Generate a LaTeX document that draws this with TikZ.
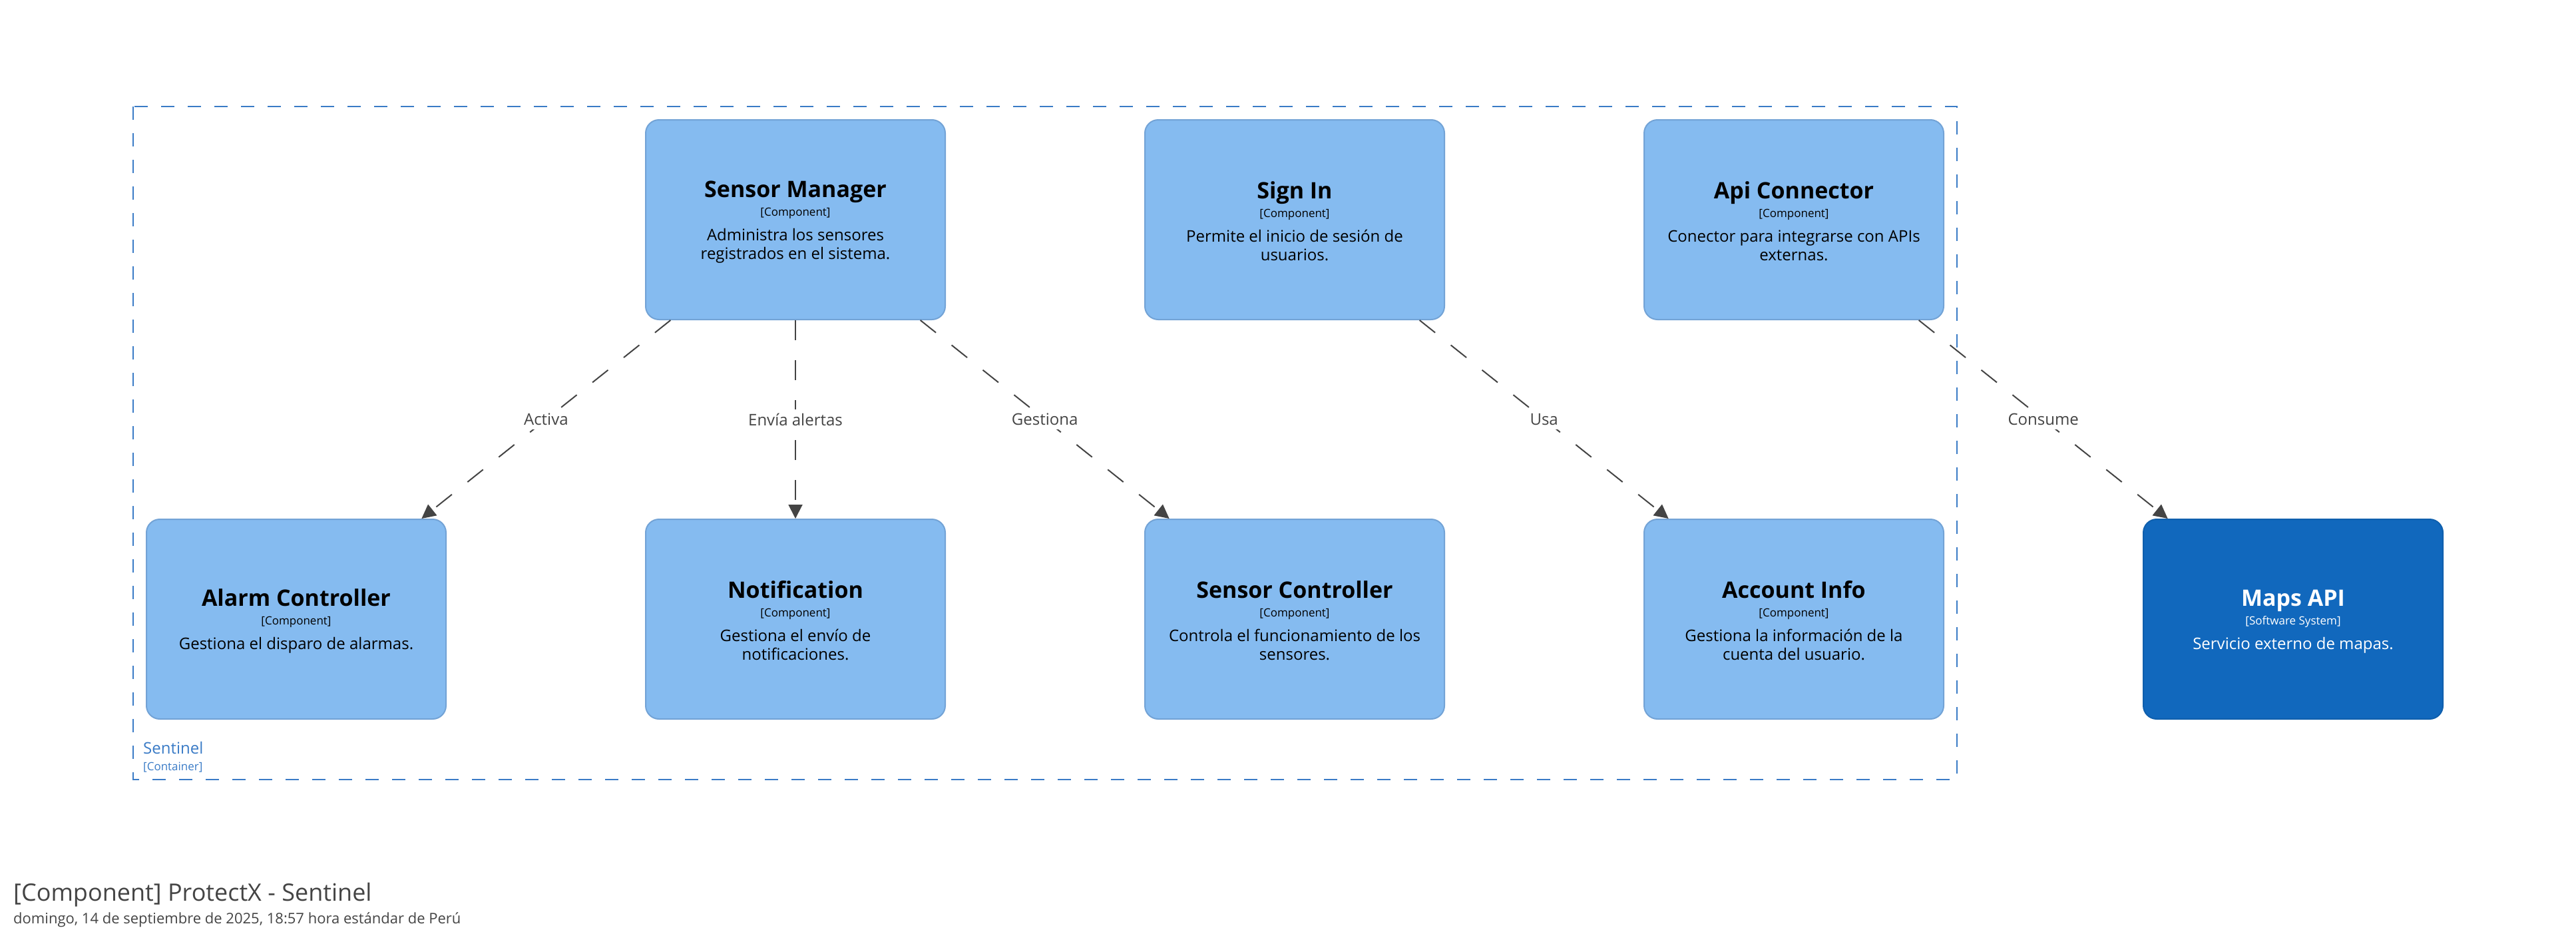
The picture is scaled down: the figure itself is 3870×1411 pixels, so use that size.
\documentclass[tikz,border=0pt]{standalone}
\usepackage{fontspec}
\setmainfont{Open Sans}
\usetikzlibrary{arrows.meta}
\definecolor{compfill}{HTML}{85BBF0}
\definecolor{compline}{HTML}{73A3D6}
\definecolor{extfill}{HTML}{1168BD}
\definecolor{extline}{HTML}{0F5FAD}
\definecolor{cntline}{HTML}{3A7BC6}
\definecolor{relline}{HTML}{444444}
\newcommand{\cname}[1]{{\fontsize{34}{40}\selectfont\bfseries\rule{0pt}{31pt}#1}}
\newcommand{\ctype}[1]{{\fontsize{17}{20}\selectfont [#1]}}

\begin{document}
\begin{tikzpicture}[x=1pt,y=1pt,yscale=-1,xscale=1,
  comp/.style={draw=compline,fill=compfill,line width=2pt,rounded corners=20pt,minimum width=450pt,minimum height=300pt,inner sep=0pt,align=center,font=\fontsize{24}{28}\selectfont},
  ext/.style={comp,draw=extline,fill=extfill,text=white},
  rel/.style={draw=relline,line width=2pt,dash pattern=on 30pt off 30pt,-{Triangle[length=21pt,width=21pt]}},
  lbl/.style={fill=white,text=relline,inner sep=6pt,font=\fontsize{24}{28}\selectfont},
  caption/.style={anchor=base west,inner sep=0pt}]
\useasboundingbox (0,0) rectangle (3870,1411);
%Container
\draw [cntline,line width=2pt,dash pattern=on 20pt off 20pt] (200,160) rectangle (2940,1171);
% Text Node
\node (cntname) [caption,text=cntline,font=\fontsize{24}{28}\selectfont] at (215,1132) {Sentinel};
% Text Node
\node (cnttype) [caption,text=cntline,font=\fontsize{17}{20}\selectfont] at (215,1157) {[Container]};
%Rounded Rect
\node (sm) [comp] at (1195,330) {\cname{Sensor Manager}\\\ctype{Component}\\[9pt]Administra los sensores\\registrados en el sistema.};
%Rounded Rect
\node (si) [comp] at (1945,330) {\cname{Sign In}\\\ctype{Component}\\[9pt]Permite el inicio de sesión de\\usuarios.};
%Rounded Rect
\node (apic) [comp] at (2695,330) {\cname{Api Connector}\\\ctype{Component}\\[9pt]Conector para integrarse con APIs\\externas.};
%Rounded Rect
\node (ac) [comp] at (445,930) {\cname{Alarm Controller}\\\ctype{Component}\\[9pt]Gestiona el disparo de alarmas.};
%Rounded Rect
\node (nt) [comp] at (1195,930) {\cname{Notification}\\\ctype{Component}\\[9pt]Gestiona el envío de\\notificaciones.};
%Rounded Rect
\node (sc) [comp] at (1945,930) {\cname{Sensor Controller}\\\ctype{Component}\\[9pt]Controla el funcionamiento de los\\sensores.};
%Rounded Rect
\node (ai) [comp] at (2695,930) {\cname{Account Info}\\\ctype{Component}\\[9pt]Gestiona la información de la\\cuenta del usuario.};
%Rounded Rect
\node (maps) [ext] at (3445,930) {\cname{Maps API}\\\ctype{Software System}\\[9pt]Servicio externo de mapas.};
%Straight Lines
\draw [rel] (sm) -- node [lbl] {Activa} (ac);
\draw [rel] (sm) -- node [lbl] {Envía alertas} (nt);
\draw [rel] (sm) -- node [lbl] {Gestiona} (sc);
\draw [rel] (si) -- node [lbl] {Usa} (ai);
\draw [rel] (apic) -- node [lbl] {Consume} (maps);
% Text Node
\node (title) [caption,text=relline,font=\fontsize{36}{42}\selectfont] at (20,1353) {[Component] ProtectX - Sentinel};
% Text Node
\node (stamp) [caption,text=relline,font=\fontsize{22}{26}\selectfont] at (20,1387) {domingo, 14 de septiembre de 2025, 18:57 hora estándar de Perú};
\end{tikzpicture}
\end{document}
